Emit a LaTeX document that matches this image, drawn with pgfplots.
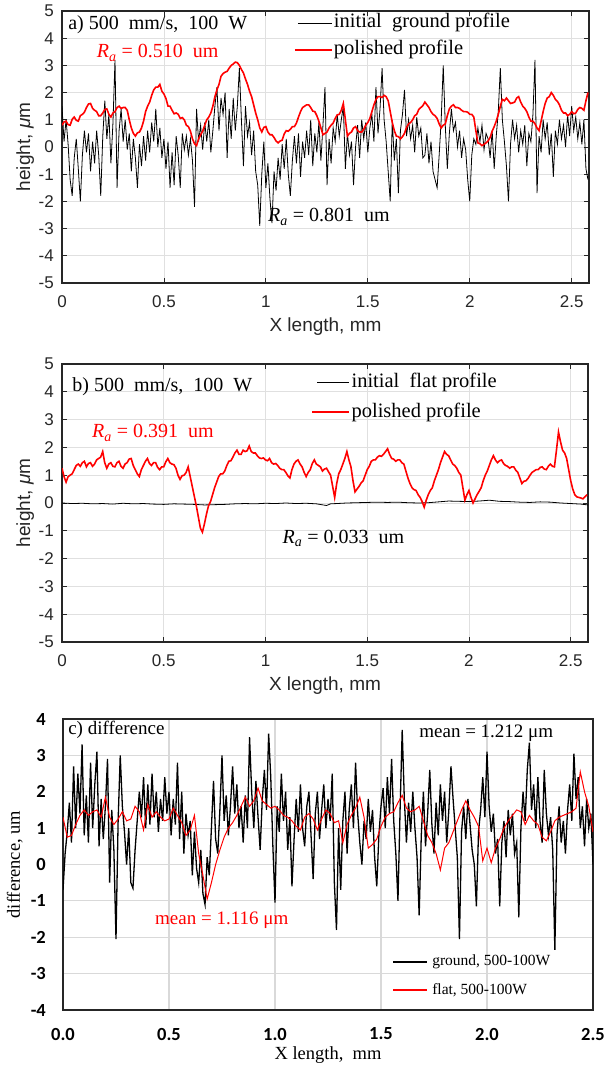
\documentclass[border=0pt]{standalone}
\usepackage{fontspec}
\setmainfont{Liberation Serif}
\newfontfamily\arialf{Liberation Sans}
\newfontfamily\calf{Carlito}
\usepackage{pgfplots}
\pgfplotsset{compat=1.18}

\definecolor{mgray}{RGB}{38,38,38}
\definecolor{mgrid}{RGB}{224,224,224}
\definecolor{xgrid}{RGB}{217,217,217}

\tikzset{legtext/.style={anchor=west, inner sep=0pt, font=\fontsize{20.5}{20.5}\selectfont}}

\pgfplotsset{
  matlab/.style={
    scale only axis,
    xmin=0, xmax=2.585, ymin=-5, ymax=5,
    xtick={0,0.5,1,1.5,2,2.5}, ytick={-5,-4,...,5},
    grid=major, grid style={mgrid, line width=0.8pt},
    axis line style={mgray, line width=1.2pt},
    tick style={mgray, line width=0.8pt},
    tick align=inside, tick pos=both, ticklabel pos=left,
    major tick length=5pt,
    /pgf/number format/assume math mode=true,
    ticklabel style={font=\arialf\fontsize{17}{17}\selectfont, text=mgray},
    yticklabel style={anchor=east, inner sep=0pt, xshift=-8pt},
    xticklabel style={anchor=center, inner sep=0pt, yshift=-19pt},
    label style={font=\arialf\fontsize{19}{19}\selectfont, text=mgray},
    ylabel={height, {\itshape μ}m},
    xlabel={X length, mm},
  },
}

\begin{document}
\begin{tikzpicture}
\path[use as bounding box] (0pt,0pt) rectangle (607pt,1067pt);

% ---------- a) ground profile ----------
\begin{axis}[matlab, at={(62pt,784pt)}, anchor=south west,
  width=527pt, height=272pt,
  xlabel style={at={(axis description cs:0.5,-0.162)}, anchor=center},
  ylabel style={at={(axis description cs:-0.070,0.5)}, anchor=center},
]
\addplot[black, line width=0.8pt] table[header=false, row sep=\\, x expr=\coordindex*0.01, y index=0] {
1.5\\0.2\\1.0\\0.1\\-1.2\\-1.8\\-0.4\\0.3\\-0.8\\-2.0\\
-0.3\\0.6\\-0.2\\0.5\\-0.9\\0.2\\-0.6\\0.6\\-0.3\\-1.8\\
0.4\\1.7\\0.3\\1.2\\-0.6\\0.9\\3.2\\-1.5\\0.6\\1.4\\
0.2\\1.0\\-0.1\\0.5\\-0.9\\0.3\\-0.4\\-1.5\\0.1\\-0.7\\
0.4\\-0.5\\0.6\\-0.2\\0.9\\0.2\\1.4\\0.0\\0.7\\-0.4\\
0.3\\-0.8\\0.2\\-1.5\\-0.2\\-1.4\\0.4\\-0.3\\-1.5\\0.5\\
-0.1\\0.4\\-0.3\\0.3\\-0.5\\-2.2\\1.4\\0.2\\0.8\\-0.1\\
0.9\\0.2\\1.0\\-0.2\\0.6\\1.5\\2.2\\0.6\\1.8\\1.2\\
2.0\\-0.4\\1.4\\0.3\\1.8\\0.6\\1.5\\2.9\\1.0\\-0.7\\
1.5\\0.4\\0.9\\-0.3\\0.6\\-0.9\\-1.4\\-2.9\\-1.0\\0.2\\
-1.5\\-0.6\\-1.9\\-2.8\\-0.9\\-1.6\\-0.4\\-1.2\\0.1\\-0.8\\
0.3\\-1.0\\-1.8\\-0.5\\0.4\\-0.6\\0.5\\-1.1\\0.2\\-0.4\\
0.6\\-0.3\\1.0\\-0.7\\0.5\\-0.2\\0.9\\-0.5\\0.8\\2.2\\
-1.4\\0.3\\-0.6\\0.7\\0.2\\1.2\\0.4\\1.0\\1.5\\-0.8\\
0.5\\-0.3\\0.2\\-1.4\\0.0\\0.8\\-0.4\\1.0\\0.3\\0.9\\
-0.2\\0.7\\1.2\\0.2\\2.2\\0.5\\1.4\\2.9\\1.0\\0.2\\
-0.9\\-2.0\\1.0\\-0.5\\0.3\\-1.7\\0.6\\1.2\\2.1\\0.4\\
1.0\\0.3\\0.8\\-0.2\\1.1\\0.4\\0.7\\-0.4\\-0.3\\0.5\\
-0.6\\0.2\\-0.9\\-1.2\\-1.5\\-0.3\\1.0\\3.0\\0.8\\-0.8\\
0.5\\1.4\\0.6\\0.9\\0.0\\0.6\\-0.4\\0.3\\-0.1\\-1.2\\
-2.0\\-0.3\\0.3\\0.1\\0.7\\0.2\\0.8\\-0.1\\0.5\\0.3\\
-0.4\\0.6\\-0.8\\0.4\\1.3\\2.9\\1.0\\0.2\\-0.7\\-2.0\\
0.1\\1.0\\0.3\\0.8\\-0.2\\0.6\\0.1\\0.8\\-0.7\\0.5\\
0.2\\1.2\\3.2\\-1.7\\0.4\\-0.2\\1.0\\0.3\\0.9\\-0.3\\
0.5\\-1.1\\0.6\\0.1\\1.0\\0.3\\0.8\\0.0\\1.2\\0.4\\
1.5\\0.6\\1.1\\0.3\\0.9\\0.1\\1.0\\-0.8\\-1.2\\
};
\addplot[red, line width=1.6pt] table[header=false, row sep=\\, x expr=\coordindex*0.01, y index=0] {
0.8\\0.92\\0.95\\0.82\\0.8\\1.02\\1.1\\0.98\\0.95\\1.15\\
1.2\\1.28\\1.45\\1.58\\1.6\\1.42\\1.35\\1.3\\1.15\\1.15\\
1.25\\1.38\\1.4\\1.2\\1.1\\1.25\\1.3\\1.45\\1.5\\1.42\\
1.45\\1.45\\1.35\\1.0\\0.7\\0.5\\0.4\\0.52\\0.55\\0.7\\
0.95\\1.3\\1.5\\1.65\\1.9\\2.1\\2.2\\2.2\\2.3\\2.05\\
1.95\\1.78\\1.5\\1.5\\1.35\\1.22\\1.25\\1.2\\1.05\\1.08\\
1.0\\0.8\\0.75\\0.58\\0.3\\0.12\\0.05\\0.3\\0.45\\0.58\\
0.8\\1.0\\1.1\\1.25\\1.5\\1.85\\2.1\\2.3\\2.6\\2.7\\
2.75\\2.78\\2.9\\3.0\\3.05\\3.12\\3.1\\3.0\\2.85\\2.72\\
2.5\\2.3\\2.05\\1.85\\1.55\\1.25\\1.0\\0.7\\0.55\\0.72\\
0.75\\0.55\\0.45\\0.45\\0.35\\0.22\\0.15\\0.22\\0.25\\0.48\\
0.6\\0.58\\0.65\\0.75\\0.75\\0.88\\1.1\\1.3\\1.45\\1.5\\
1.55\\1.55\\1.45\\1.32\\1.3\\1.15\\0.95\\0.7\\0.45\\0.5\\
0.55\\0.7\\0.8\\0.88\\1.05\\1.18\\1.2\\1.35\\1.6\\1.0\\
0.4\\0.5\\0.55\\0.7\\0.75\\0.6\\0.55\\0.55\\0.65\\0.8\\
0.9\\1.05\\1.3\\1.55\\1.75\\1.85\\1.85\\1.82\\1.9\\1.85\\
1.7\\1.3\\0.9\\0.6\\0.4\\0.38\\0.3\\0.38\\0.5\\0.72\\
0.85\\0.9\\1.0\\1.15\\1.2\\1.38\\1.45\\1.52\\1.65\\1.55\\
1.45\\1.3\\1.2\\1.15\\1.05\\0.85\\0.7\\0.8\\0.85\\1.15\\
1.4\\1.5\\1.55\\1.45\\1.45\\1.42\\1.35\\1.3\\1.3\\1.28\\
1.2\\1.2\\1.1\\0.6\\0.15\\0.12\\0.05\\0.1\\0.15\\0.22\\
0.35\\0.58\\0.75\\0.95\\1.2\\1.5\\1.75\\1.7\\1.8\\1.7\\
1.6\\1.62\\1.65\\1.8\\1.85\\1.65\\1.5\\1.42\\1.3\\1.1\\
0.95\\0.95\\0.85\\0.7\\0.6\\0.95\\1.3\\1.6\\1.8\\1.85\\
2.0\\1.9\\1.75\\1.68\\1.55\\1.35\\1.25\\1.25\\1.15\\1.2\\
1.3\\1.22\\1.25\\1.38\\1.45\\1.42\\1.35\\1.7\\2.0\\
};
% legend keys
\addplot[black, line width=0.8pt] coordinates {(1.157,4.56) (1.324,4.56)};
\addplot[red, line width=1.6pt] coordinates {(1.142,3.57) (1.324,3.57)};
\node[legtext] at (axis cs:1.333,4.56) {initial\ \ ground profile};
\node[legtext] at (axis cs:1.333,3.57) {polished profile};
\node[anchor=west, inner sep=0pt, font=\fontsize{20}{20}\selectfont] at (axis cs:0.03,4.49) {a) 500\ \ mm/s,\ \ 100\ \ W};
\node[anchor=west, inner sep=0pt, text=red, font=\fontsize{20}{20}\selectfont] at (axis cs:0.17,3.46) {\textit{R}\textsubscript{\textit{a}} = 0.510\ \ um};
\node[anchor=west, inner sep=0pt, font=\fontsize{20}{20}\selectfont] at (axis cs:1.01,-2.57) {\textit{R}\textsubscript{\textit{a}} = 0.801\ \ um};
\end{axis}

% ---------- b) flat profile ----------
\begin{axis}[matlab, at={(62pt,425pt)}, anchor=south west,
  width=526pt, height=278pt,
  xlabel style={at={(axis description cs:0.5,-0.158)}, anchor=center},
  ylabel style={at={(axis description cs:-0.070,0.5)}, anchor=center},
]
\addplot[black, line width=0.8pt] coordinates {
(0.00,0.0) (0.05,-0.02) (0.10,-0.01) (0.15,-0.03) (0.20,-0.02) (0.25,-0.04)
(0.30,-0.01) (0.35,-0.03) (0.40,-0.02) (0.45,-0.04) (0.50,-0.05) (0.55,-0.03)
(0.60,-0.04) (0.65,-0.05) (0.70,-0.07) (0.75,-0.06) (0.80,-0.05) (0.85,-0.03)
(0.90,-0.02) (0.95,-0.03) (1.00,-0.01) (1.05,-0.02) (1.10,0.0) (1.15,-0.02)
(1.20,-0.01) (1.25,-0.03) (1.30,-0.09) (1.32,-0.03) (1.35,-0.02) (1.40,0.0)
(1.45,0.01) (1.50,0.02) (1.55,0.03) (1.60,0.02) (1.65,0.03) (1.70,0.01)
(1.75,0.0) (1.80,0.01) (1.85,0.04) (1.90,0.07) (1.95,0.06) (2.00,0.05)
(2.05,0.07) (2.10,0.10) (2.15,0.06) (2.20,0.05) (2.25,0.03) (2.30,0.02)
(2.35,0.04) (2.40,0.03) (2.45,0.0) (2.50,-0.02) (2.55,-0.04) (2.585,-0.07)
};
\addplot[red, line width=1.6pt] table[header=false, row sep=\\, x expr=\coordindex*0.01, y index=0] {
1.25\\0.95\\0.75\\0.95\\1.0\\1.05\\1.2\\1.35\\1.4\\1.32\\
1.45\\1.5\\1.3\\1.42\\1.45\\1.32\\1.4\\1.55\\1.6\\1.65\\
1.85\\1.45\\1.25\\1.4\\1.45\\1.32\\1.3\\1.45\\1.5\\1.32\\
1.25\\1.4\\1.45\\1.58\\1.6\\1.35\\1.2\\1.05\\0.95\\1.2\\
1.35\\1.5\\1.6\\1.42\\1.35\\1.45\\1.45\\1.28\\1.2\\1.3\\
1.3\\1.48\\1.6\\1.45\\1.4\\1.38\\1.25\\1.0\\0.85\\0.98\\
1.0\\1.1\\1.3\\0.95\\0.6\\0.25\\-0.1\\-0.5\\-0.9\\-1.05\\
-0.75\\-0.4\\-0.1\\0.05\\0.3\\0.55\\0.75\\0.95\\1.05\\1.05\\
1.15\\1.35\\1.5\\1.52\\1.65\\1.8\\1.9\\1.75\\1.75\\1.9\\
1.85\\1.88\\2.05\\1.85\\1.8\\1.8\\1.7\\1.62\\1.6\\1.62\\
1.55\\1.52\\1.6\\1.45\\1.4\\1.42\\1.35\\1.25\\1.2\\1.2\\
1.1\\0.98\\0.9\\1.2\\1.4\\1.5\\1.55\\1.4\\1.3\\1.1\\
0.95\\1.1\\1.2\\1.42\\1.55\\1.4\\1.35\\1.3\\1.15\\1.22\\
1.25\\1.12\\1.0\\0.6\\0.2\\0.7\\1.05\\1.2\\1.4\\1.6\\
1.85\\1.55\\1.3\\0.8\\0.4\\0.5\\0.6\\0.72\\0.8\\1.0\\
1.2\\1.32\\1.5\\1.55\\1.55\\1.65\\1.7\\1.68\\1.75\\1.85\\
1.95\\1.75\\1.6\\1.58\\1.5\\1.55\\1.55\\1.45\\1.4\\1.15\\
0.9\\0.7\\0.55\\0.48\\0.45\\0.3\\0.2\\0.05\\-0.15\\0.1\\
0.3\\0.45\\0.55\\0.8\\1.0\\1.2\\1.45\\1.65\\1.85\\1.75\\
1.7\\1.55\\1.4\\1.35\\1.25\\1.1\\1.0\\0.55\\0.1\\0.3\\
0.45\\0.2\\0.0\\0.15\\0.3\\0.42\\0.55\\0.8\\1.0\\1.15\\
1.35\\1.55\\1.7\\1.55\\1.45\\1.52\\1.55\\1.42\\1.35\\1.32\\
1.25\\1.3\\1.3\\1.18\\1.1\\0.9\\0.7\\0.78\\0.8\\0.88\\
1.0\\1.1\\1.15\\1.2\\1.2\\1.28\\1.3\\1.22\\1.2\\1.32\\
1.4\\1.32\\1.3\\1.9\\2.55\\2.2\\1.9\\1.8\\1.6\\1.2\\
0.8\\0.5\\0.3\\0.22\\0.2\\0.18\\0.15\\0.22\\0.3\\
};
% legend keys
\addplot[black, line width=0.8pt] coordinates {(1.255,4.32) (1.412,4.32)};
\addplot[red, line width=1.6pt] coordinates {(1.23,3.27) (1.412,3.27)};
\node[legtext] at (axis cs:1.422,4.32) {initial\ \ flat profile};
\node[legtext] at (axis cs:1.422,3.27) {polished profile};
\node[anchor=west, inner sep=0pt, font=\fontsize{20}{20}\selectfont] at (axis cs:0.05,4.17) {b) 500\ \ mm/s,\ \ 100\ \ W};
\node[anchor=west, inner sep=0pt, text=red, font=\fontsize{20}{20}\selectfont] at (axis cs:0.147,2.52) {\textit{R}\textsubscript{\textit{a}} = 0.391\ \ um};
\node[anchor=west, inner sep=0pt, font=\fontsize{20}{20}\selectfont] at (axis cs:1.083,-1.26) {\textit{R}\textsubscript{\textit{a}} = 0.033\ \ um};
\end{axis}

% ---------- c) difference ----------
\begin{axis}[scale only axis, at={(63pt,57pt)}, anchor=south west,
  width=530pt, height=291pt,
  xmin=0, xmax=2.5, ymin=-4, ymax=4,
  xtick={0,0.5,1,1.5,2,2.5}, ytick={-4,-3,...,4},
  grid=major, grid style={xgrid, line width=1.2pt},
  axis line style={black!85, line width=1.4pt},
  major tick length=0pt, ticklabel pos=left,
  /pgf/number format/assume math mode=true,
  xticklabel={\pgfmathprintnumber[fixed, fixed zerofill, precision=1]{\tick}},
  ticklabel style={font=\calf\bfseries\fontsize{18.5}{18.5}\selectfont},
  yticklabel style={anchor=east, inner sep=0pt, xshift=-17pt},
  xticklabel style={anchor=center, inner sep=0pt, yshift=-24pt},
  label style={font=\fontsize{18.5}{18.5}\selectfont},
  xlabel={X length,\ \ mm},
  ylabel={difference, um},
  xlabel style={at={(axis description cs:0.5,-0.155)}, anchor=center, inner sep=0pt},
  ylabel style={at={(axis description cs:-0.091,0.5)}, anchor=center},
]
\addplot[black, line width=1.3pt] table[header=false, row sep=\\, x expr=\coordindex*0.01, y index=0] {
-0.7\\0.3\\0.9\\1.7\\0.6\\2.7\\1.0\\2.5\\1.4\\3.3\\
0.8\\1.9\\0.6\\2.8\\1.0\\2.2\\3.1\\0.5\\1.8\\0.7\\
1.6\\2.9\\-0.5\\1.5\\0.4\\-2.05\\1.2\\3.0\\1.6\\0.9\\
0.0\\1.0\\-0.5\\-0.65\\0.4\\1.2\\2.0\\1.3\\2.4\\1.0\\
2.2\\1.1\\2.5\\1.3\\2.0\\0.9\\1.8\\1.2\\2.4\\1.4\\
2.0\\0.8\\1.8\\1.1\\2.8\\0.7\\2.0\\0.3\\1.4\\0.8\\
1.2\\-0.3\\0.9\\-0.1\\-0.5\\0.4\\-0.8\\-1.1\\0.2\\-0.3\\
1.0\\2.3\\0.7\\0.3\\1.5\\3.0\\1.2\\1.9\\0.8\\1.6\\
2.7\\1.4\\2.2\\1.0\\1.6\\0.6\\1.9\\1.0\\3.5\\2.0\\
1.0\\2.3\\1.3\\0.4\\1.8\\2.6\\1.5\\3.6\\2.4\\0.5\\
-1.05\\1.6\\0.9\\2.5\\1.2\\2.0\\0.4\\1.3\\-0.6\\0.7\\
1.8\\0.9\\2.2\\1.0\\0.5\\1.6\\2.0\\0.8\\-0.4\\1.4\\
2.0\\0.7\\1.5\\2.2\\1.0\\1.8\\1.2\\2.5\\-0.5\\-1.8\\
1.0\\-0.7\\1.2\\2.0\\0.3\\1.5\\2.2\\1.0\\2.8\\1.4\\
0.6\\0.0\\1.2\\0.7\\1.8\\0.9\\1.5\\0.2\\-0.6\\0.8\\
1.6\\2.1\\1.0\\2.4\\1.4\\2.9\\1.2\\0.3\\-1.0\\1.5\\
3.7\\1.8\\0.6\\1.7\\0.9\\2.0\\1.0\\0.2\\-1.4\\0.8\\
2.0\\0.5\\1.4\\2.6\\1.1\\0.3\\1.7\\0.8\\2.2\\1.2\\
2.0\\0.6\\1.5\\2.7\\1.8\\1.0\\0.2\\-2.05\\0.9\\1.6\\
0.7\\1.8\\1.1\\0.4\\0.0\\-1.15\\0.9\\1.5\\2.4\\1.3\\
3.1\\1.6\\0.9\\1.4\\0.3\\0.7\\-1.15\\0.6\\1.2\\0.2\\
1.5\\0.8\\1.4\\0.3\\0.6\\-1.45\\1.0\\2.0\\1.2\\2.6\\
3.35\\1.5\\2.2\\1.0\\2.4\\1.2\\0.6\\2.6\\1.4\\0.8\\
1.3\\0.4\\-2.35\\0.8\\1.6\\0.6\\1.2\\0.3\\1.5\\2.2\\
1.2\\3.05\\1.8\\2.4\\1.0\\1.6\\0.5\\1.8\\1.0\\1.4\\
0.0\\
};
\addplot[red, line width=1pt] table[header=false, row sep=\\, x expr=\coordindex*0.02, y index=0] {
1.3\\0.75\\0.8\\1.1\\1.35\\1.5\\1.35\\1.45\\1.5\\1.3\\
1.85\\1.3\\1.1\\1.25\\1.45\\1.2\\1.25\\1.6\\1.45\\0.95\\
1.65\\1.3\\1.45\\1.3\\1.2\\1.25\\1.55\\1.35\\1.15\\0.8\\
0.95\\1.35\\0.3\\-0.3\\-0.95\\-0.5\\0.0\\0.4\\0.75\\1.0\\
1.15\\1.35\\1.6\\1.85\\1.6\\1.75\\2.1\\1.75\\1.65\\1.55\\
1.6\\1.5\\1.35\\1.3\\1.2\\1.05\\0.95\\1.3\\1.4\\1.25\\
0.95\\1.25\\1.5\\1.4\\1.15\\1.2\\0.6\\1.1\\1.35\\1.55\\
1.85\\1.3\\0.45\\0.55\\0.7\\1.05\\1.3\\1.4\\1.45\\1.7\\
1.9\\1.55\\1.45\\1.5\\1.6\\1.2\\0.8\\0.6\\0.3\\-0.15\\
0.45\\0.6\\0.9\\1.2\\1.5\\1.75\\1.5\\1.3\\1.05\\0.1\\
0.45\\0.05\\0.45\\0.7\\1.0\\1.2\\1.35\\1.5\\1.45\\1.1\\
1.35\\1.2\\1.1\\0.75\\0.65\\0.9\\1.2\\1.3\\1.35\\1.4\\
1.45\\1.55\\2.55\\2.0\\1.6\\0.9\\
};
% legend keys
\addplot[black, line width=1.3pt] coordinates {(1.557,-2.68) (1.717,-2.68)};
\addplot[red, line width=1.3pt] coordinates {(1.557,-3.45) (1.717,-3.45)};
\node[legtext, font=\fontsize{15.5}{15.5}\selectfont] at (axis cs:1.741,-2.68) {ground, 500-100W};
\node[legtext, font=\fontsize{15.5}{15.5}\selectfont] at (axis cs:1.741,-3.45) {flat, 500-100W};
\node[anchor=west, inner sep=0pt, font=\fontsize{19}{19}\selectfont] at (axis cs:0.024,3.7) {c) difference};
\node[anchor=west, inner sep=0pt, font=\fontsize{19}{19}\selectfont] at (axis cs:1.68,3.61) {mean = 1.212 μm};
\node[anchor=west, inner sep=0pt, text=red, font=\fontsize{19}{19}\selectfont] at (axis cs:0.434,-1.52) {mean = 1.116 μm};
\end{axis}
\end{tikzpicture}
\end{document}
